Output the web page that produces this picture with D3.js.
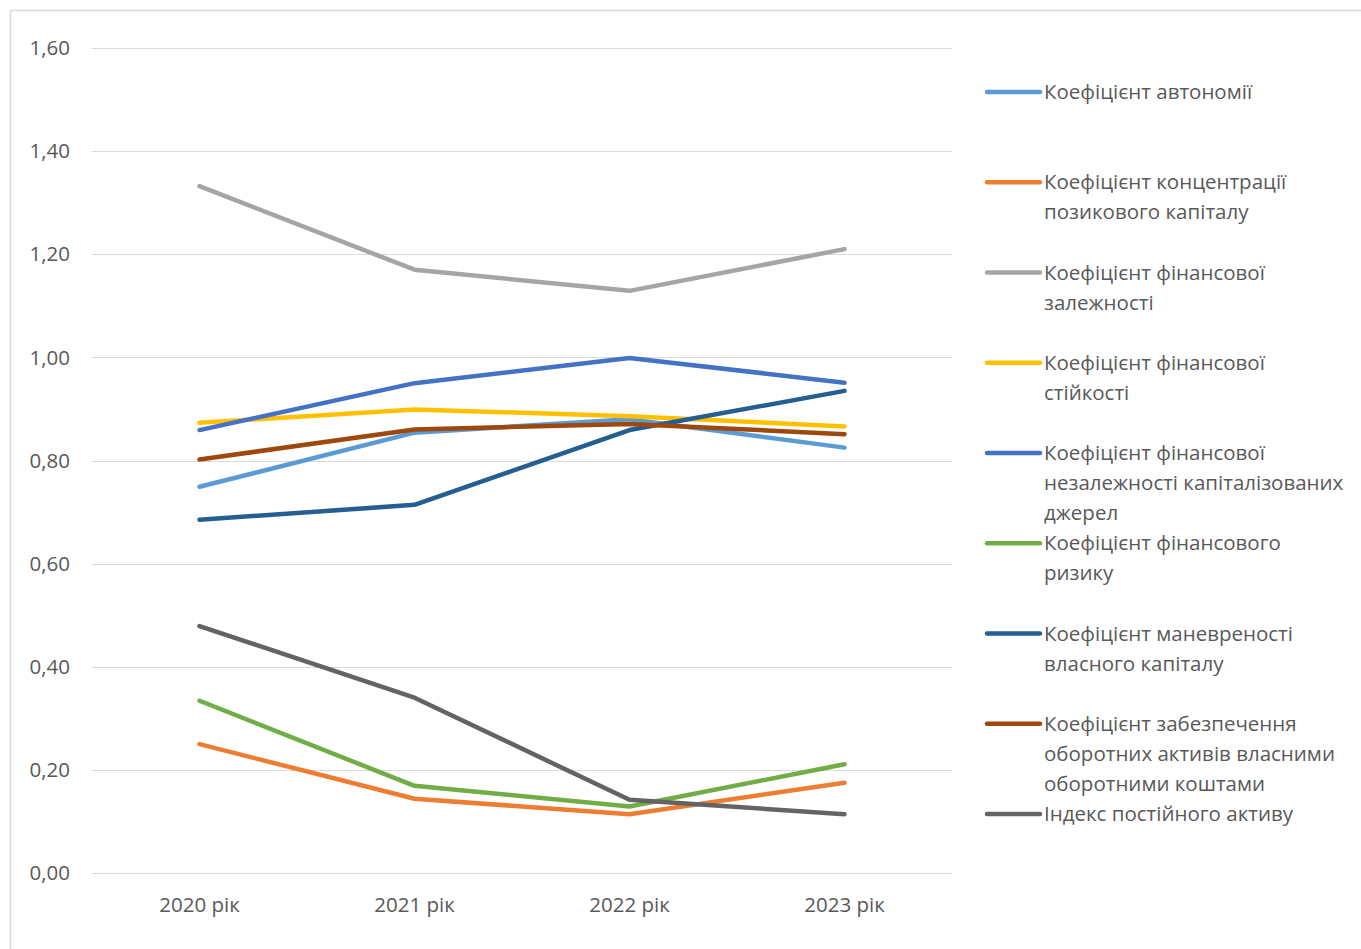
<!DOCTYPE html>
<html>
<head>
<meta charset="utf-8">
<script src="https://cdn.jsdelivr.net/npm/d3@7"></script>
<style>
  body { margin: 0; background: #fff; overflow: hidden; }
  text { font-family: "Open Sans", "Noto Sans", sans-serif; fill: #595959; }
</style>
</head>
<body>
<svg></svg>
<script>
// categories + series
const years = ["2020 рік", "2021 рік", "2022 рік", "2023 рік"];
const seriesNames = [
  "Коефіцієнт автономії",
  "Коефіцієнт концентрації позикового капіталу",
  "Коефіцієнт фінансової залежності",
  "Коефіцієнт фінансової стійкості",
  "Коефіцієнт фінансової незалежності капіталізованих джерел",
  "Коефіцієнт фінансового ризику",
  "Коефіцієнт маневреності власного капіталу",
  "Коефіцієнт забезпечення оборотних активів власними оборотними коштами",
  "Індекс постійного активу"
];
// legend text split into lines as in the picture
const legendLines = [
  ["Коефіцієнт автономії"],
  ["Коефіцієнт концентрації", "позикового капіталу"],
  ["Коефіцієнт фінансової", "залежності"],
  ["Коефіцієнт фінансової", "стійкості"],
  ["Коефіцієнт фінансової", "незалежності капіталізованих", "джерел"],
  ["Коефіцієнт фінансового", "ризику"],
  ["Коефіцієнт маневреності", "власного капіталу"],
  ["Коефіцієнт забезпечення", "оборотних активів власними", "оборотними коштами"],
  ["Індекс постійного активу"]
];
const avtonomii     = [0.749, 0.854, 0.880, 0.825];
const kontsentratsii = [0.250, 0.144, 0.114, 0.175];
const zalezhnosti   = [1.332, 1.170, 1.129, 1.210];
const stiikosti     = [0.873, 0.899, 0.886, 0.866];
const nezalezhnosti = [0.859, 0.950, 0.999, 0.951];
const ryzyku        = [0.334, 0.169, 0.129, 0.211];
const manevrenosti  = [0.685, 0.714, 0.859, 0.935];
const zabezpechennia = [0.802, 0.860, 0.871, 0.851];
const indeks        = [0.479, 0.340, 0.142, 0.114];
const yTicks = [0, 0.2, 0.4, 0.6, 0.8, 1.0, 1.2, 1.4, 1.6];

const colors = ["#5B9BD5", "#ED7D31", "#A5A5A5", "#FFC000", "#4472C4",
                "#70AD47", "#255E91", "#9E480E", "#636363"];

const allValues = [avtonomii, kontsentratsii, zalezhnosti, stiikosti, nezalezhnosti,
                   ryzyku, manevrenosti, zabezpechennia, indeks];
const series = seriesNames.map((name, i) => ({ name, values: allValues[i], color: colors[i], lines: legendLines[i] }));

const width = 1361, height = 949;
const plot = { left: 92, right: 952, top: 48, bottom: 873 };
const fontSize = "20.5px";

const svg = d3.select("svg").attr("width", width).attr("height", height);

// chart frame (runs off the right and bottom edge, like the screenshot)
svg.append("rect")
  .attr("x", 10.5).attr("y", 10.5)
  .attr("width", width + 20).attr("height", height + 20)
  .attr("fill", "none").attr("stroke", "#d9d9d9").attr("stroke-width", 1.5);

const x = d3.scaleBand().domain(years).range([plot.left, plot.right]);
const y = d3.scaleLinear().domain([0, 1.6]).range([plot.bottom, plot.top]);

const fmt = v => d3.format(".2f")(v).replace(".", ",");

// gridlines
svg.append("g")
  .selectAll("line")
  .data(yTicks)
  .join("line")
  .attr("x1", plot.left).attr("x2", plot.right)
  .attr("y1", d => Math.round(y(d)) + 0.5).attr("y2", d => Math.round(y(d)) + 0.5)
  .attr("stroke", "#d9d9d9").attr("stroke-width", 1.2);

// y labels
svg.append("g")
  .selectAll("text")
  .data(yTicks)
  .join("text")
  .attr("x", 70).attr("y", d => y(d))
  .attr("dy", "0.35em")
  .attr("text-anchor", "end")
  .style("font-size", fontSize)
  .text(fmt);

// x labels
svg.append("g")
  .selectAll("text")
  .data(years)
  .join("text")
  .attr("x", d => x(d) + x.bandwidth() / 2)
  .attr("y", 905).attr("dy", "0.35em")
  .attr("text-anchor", "middle")
  .style("font-size", fontSize)
  .text(d => d);

// lines
const line = d3.line()
  .x((d, i) => x(years[i]) + x.bandwidth() / 2)
  .y(d => y(d));

svg.append("g")
  .selectAll("path")
  .data(series)
  .join("path")
  .attr("d", d => line(d.values))
  .attr("fill", "none")
  .attr("stroke", d => d.color)
  .attr("stroke-width", 4.5)
  .attr("stroke-linecap", "round")
  .attr("stroke-linejoin", "round");

// legend
const legendTop = 92, legendStep = 90.25, lineH = 30;
const leg = svg.append("g")
  .selectAll("g")
  .data(series)
  .join("g")
  .attr("transform", (d, i) => `translate(0,${legendTop + i * legendStep})`);

leg.append("line")
  .attr("x1", 987).attr("x2", 1040)
  .attr("y1", 0).attr("y2", 0)
  .attr("stroke", d => d.color)
  .attr("stroke-width", 4.5)
  .attr("stroke-linecap", "round");

leg.append("text")
  .attr("x", 1044)
  .style("font-size", fontSize)
  .selectAll("tspan")
  .data(d => d.lines)
  .join("tspan")
  .attr("x", 1044)
  .attr("y", (d, i) => i * lineH)
  .attr("dy", "0.35em")
  .text(d => d);
</script>
</body>
</html>
